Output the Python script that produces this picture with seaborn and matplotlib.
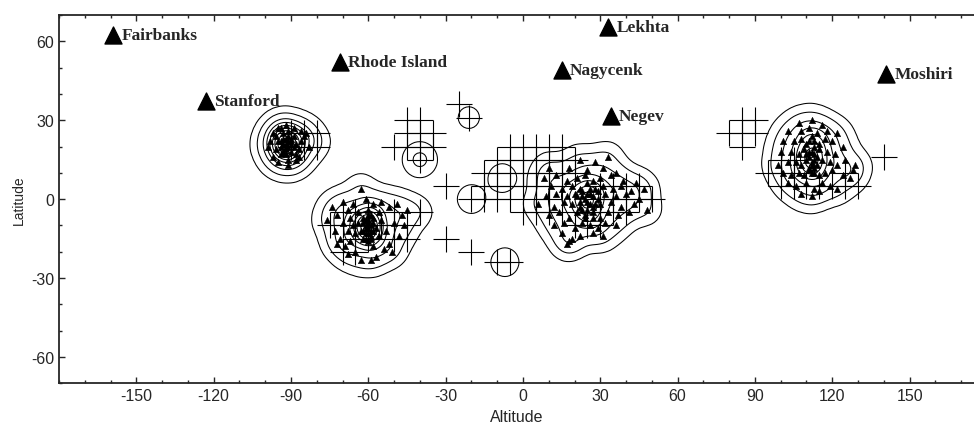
import matplotlib
matplotlib.use("Agg")
import matplotlib.pyplot as plt
from matplotlib.ticker import MultipleLocator, FixedLocator
import seaborn as sns
import numpy as np
import pandas as pd

# stations (big triangles)
station_names = ["Fairbanks", "Stanford", "Rhode Island", "Lekhta", "Nagycenk", "Negev", "Moshiri"]
station_lon = [-159, -123, -71, 33, 15, 34, 141]
station_lat = [62.5, 37.5, 52, 65.5, 49, 31.5, 47.5]

# small triangles
tri_america = [(-98, 22), (-97, 25), (-96, 19), (-95, 27), (-94, 17), (-93, 23), (-92, 20), (-91, 26),
               (-90, 18), (-89, 24), (-88, 21), (-87, 16), (-86, 22), (-99, 20), (-97, 16), (-95, 22),
               (-93, 25), (-91, 15), (-89, 27), (-87, 19), (-85, 24), (-96, 24), (-94, 20), (-92, 28),
               (-90, 22), (-88, 17), (-86, 26), (-95, 14), (-93, 18), (-91, 13), (-89, 20), (-92, 21),
               (-90, 23), (-84, 25), (-83, 20), (-94, 27), (-88, 15),
               (-93, 21), (-92, 19), (-91, 22), (-92, 23), (-93, 18), (-91, 20), (-90, 21), (-94, 22),
               (-92, 17), (-91, 24)]
tri_south = [(-76, -8), (-74, -3), (-73, -12), (-72, -6), (-71, -15), (-70, -1), (-70, -9), (-69, -18),
             (-68, -4), (-68, -12), (-67, -7), (-67, -16), (-66, -2), (-66, -10), (-65, -13), (-65, -20),
             (-64, -5), (-64, -9), (-63, 4), (-63, -12), (-62, -7), (-62, -15), (-61, 0), (-61, -10),
             (-61, -13), (-60, -4), (-60, -8), (-60, -11), (-60, -16), (-59, -6), (-59, -12), (-59, -14),
             (-58, -2), (-58, -9), (-58, -18), (-57, -11), (-57, -22), (-56, -5), (-56, -14), (-55, -1),
             (-55, -8), (-54, -19), (-53, -12), (-52, -3), (-52, -17), (-51, -20), (-50, -9), (-49, -2),
             (-48, -14), (-47, -6), (-46, -10), (-45, -4), (-63, -23), (-59, -23), (-68, -21), (-72, -17),
             (-61, -11), (-60, -13), (-59, -10), (-61, -8), (-60, -6), (-62, -12), (-58, -12), (-59, -15),
             (-61, -15), (-60, -9), (-62, -9), (-58, -7)]
tri_africa = [(22, 15), (28, 14), (33, 16),
              (10, 12), (18, 12), (25, 11), (31, 12), (36, 10),
              (8, 8), (13, 9), (17, 7), (21, 8), (24, 9), (27, 7), (30, 8), (34, 9), (39, 7), (44, 6),
              (11, 5), (15, 4), (19, 5), (22, 4), (25, 6), (28, 4), (31, 5), (35, 4), (38, 5), (42, 3), (47, 4),
              (9, 1), (13, 2), (17, 1), (20, 2), (23, 1), (26, 2), (29, 0), (32, 2), (36, 1), (40, 2), (45, 0),
              (6, -2), (12, -3), (16, -1), (19, -2), (22, -3), (25, -1), (27, -3), (30, -2), (34, -1),
              (38, -3), (43, -2), (48, -4),
              (10, -6), (14, -5), (18, -7), (21, -5), (24, -6), (27, -5), (30, -7), (33, -5), (37, -6), (41, -5),
              (12, -10), (16, -9), (20, -11), (23, -9), (26, -10), (29, -11), (32, -9), (36, -10),
              (15, -13), (19, -15), (22, -14), (27, -13), (31, -14), (17, -17), (18, -16),
              (24, 0), (26, -2), (23, 3), (27, 1), (25, -4), (22, -1), (28, -2), (24, -7), (26, 4),
              (21, 1), (29, 3), (23, -4), (27, -7), (25, 2)]
tri_asia = [(107, 29), (112, 30), (116, 28),
            (103, 26), (108, 26), (111, 27), (114, 25), (118, 26), (122, 25),
            (101, 22), (105, 22), (108, 23), (110, 21), (113, 22), (115, 21), (117, 23), (120, 22), (124, 20),
            (100, 18), (104, 18), (107, 17), (109, 19), (111, 18), (113, 17), (115, 19), (118, 18), (121, 17),
            (125, 15), (99, 13), (103, 14), (106, 14), (108, 13), (110, 15), (112, 14), (114, 13), (116, 15),
            (119, 14), (122, 13), (101, 10), (104, 9), (107, 10), (109, 9), (111, 11), (113, 10), (115, 9),
            (117, 10), (120, 11), (124, 9), (127, 8), (103, 6), (106, 5), (110, 6), (113, 4), (116, 6),
            (119, 5), (122, 4), (108, 2), (112, 1), (115, 3), (128, 11), (129, 13),
            (111, 16), (112, 13), (113, 15), (112, 18), (111, 12), (113, 20), (110, 17), (114, 16),
            (112, 10), (111, 22), (113, 12), (112, 24)]

# crosses
cross_america = [(-90, 25), (-85, 25), (-80, 25), (-90, 20), (-85, 20), (-80, 20)]
cross_south = [(-75, -10), (-70, -5), (-70, -10), (-70, -20), (-65, -5), (-65, -10), (-65, -15), (-65, -20),
               (-60, -5), (-60, -10), (-60, -15), (-55, -10), (-50, -5), (-50, -10), (-50, -15),
               (-45, -10), (-45, -15), (-40, -5)]
cross_mid = [(-45, 30), (-40, 30), (-45, 25), (-40, 25), (-35, 25), (-50, 20), (-45, 20), (-40, 20),
             (-35, 20), (-40, 15), (-25, 36), (-21, 31), (-30, 5), (-20, 0), (-30, -15), (-20, -20),
             (-10, -24), (-5, -24), (-15, 0)]
cross_africa = [(-5, 20), (0, 20), (5, 20), (10, 20), (15, 20),
                (-10, 15), (-5, 15), (0, 15), (5, 15), (10, 15), (15, 15), (20, 15),
                (-15, 10), (-10, 10), (-5, 10), (0, 10), (5, 10), (10, 10), (15, 10), (20, 10),
                (-15, 5), (-10, 5), (-5, 5), (0, 5), (5, 5), (10, 5), (15, 5),
                (-10, 0), (-5, 0), (5, 0), (10, 0), (0, -5), (5, -5), (10, -5), (15, -5),
                (30, 5), (35, 5), (40, 5), (45, 5), (30, 0), (35, 0), (40, 0), (45, 0), (50, 0),
                (25, -5), (30, -5), (35, -5), (40, -5), (20, -10), (25, -10), (30, -10)]
cross_asia = [(80, 25), (85, 25), (90, 25), (85, 30), (90, 30), (85, 20),
              (95, 10), (100, 10), (100, 5), (105, 10), (105, 5), (110, 5), (115, 5), (120, 5),
              (125, 10), (125, 5), (130, 5), (100, 15), (105, 15), (140, 16)]

# crosses that carry their own density contour in the figure, with their weight
contour_extra = [(-81, 22), (-41, -5), (-40, 15), (-21, 31), (-20, 0), (-7, -24), (-8, 8)]
contour_extra_w = [1.0, 1.0, 2.0, 0.6, 1.0, 1.0, 1.0]

tri = pd.DataFrame(tri_america + tri_south + tri_africa + tri_asia, columns=["lon", "lat"])
crs = pd.DataFrame(cross_america + cross_south + cross_mid + cross_africa + cross_asia, columns=["lon", "lat"])

# isotropic gaussian density of the events for the contour lines
pts = list(tri.itertuples(index=False, name=None)) + contour_extra
wts = [1.0] * len(tri) + contour_extra_w
gx, gy = np.meshgrid(np.arange(-180, 176, 1.0), np.arange(-70, 71, 1.0))
sigma = 3.5
dens = np.zeros_like(gx)
for (px, py), w in zip(pts, wts):
    dens += w * np.exp(-((gx - px) ** 2 + (gy - py) ** 2) / (2 * sigma ** 2))

sns.set_style("ticks")
plt.rcParams["font.family"] = ["Liberation Sans", "DejaVu Sans"]
plt.rcParams["axes.unicode_minus"] = False

fig = plt.figure(figsize=(9.74, 4.35), dpi=100)
ax = fig.add_axes([0.0606, 0.117, 0.9394, 0.846])

ax.contour(gx, gy, dens, levels=[0.3, 1.5, 4, 6.5, 9, 11.5, 14, 17, 20],
           colors="black", linewidths=0.75)
sns.scatterplot(data=crs, x="lon", y="lat", marker="+", s=330, color="black",
                linewidth=0.8, ax=ax)
sns.scatterplot(data=tri, x="lon", y="lat", marker="^", s=22, color="black",
                edgecolor="black", linewidth=0.3, ax=ax)

sns.scatterplot(x=station_lon, y=station_lat, marker="^", s=150, color="black",
                edgecolor="black", ax=ax)
for name, lo, la in zip(station_names, station_lon, station_lat):
    ax.annotate(name, (lo, la), xytext=(6, 0), textcoords="offset points",
                ha="left", va="center", fontsize=12.5, fontweight="bold",
                family=["Liberation Serif", "DejaVu Serif"])

ax.set_xlim(-180, 175)
ax.set_ylim(-70, 70)
ax.xaxis.set_major_locator(FixedLocator([-150, -120, -90, -60, -30, 0, 30, 60, 90, 120, 150]))
ax.xaxis.set_minor_locator(MultipleLocator(10))
ax.yaxis.set_major_locator(FixedLocator([-60, -30, 0, 30, 60]))
ax.yaxis.set_minor_locator(MultipleLocator(10))
ax.tick_params(which="both", direction="in", top=True, labelsize=11.5, width=1)
ax.tick_params(which="major", length=4)
ax.tick_params(which="minor", length=2.5)
ax.spines["right"].set_visible(False)
for side in ["left", "bottom", "top"]:
    ax.spines[side].set_linewidth(1.3)

ax.set_xlabel("Altitude", fontsize=11.5)
ax.set_ylabel("Latitude", fontsize=10)

fig.savefig("out.png", dpi=100)
